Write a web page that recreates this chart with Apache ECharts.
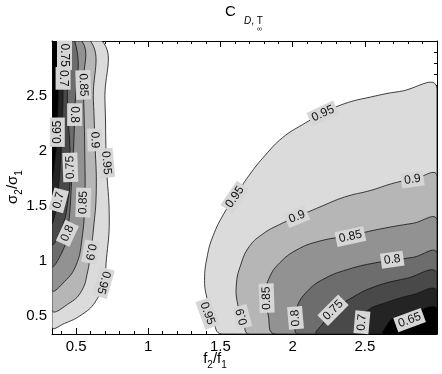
<!DOCTYPE html>
<html>
<head>
<meta charset="utf-8">
<script src="https://cdn.jsdelivr.net/npm/echarts@6/dist/echarts.min.js"></script>
<style>
html, body { margin: 0; padding: 0; background: #fff; }
#chart-container { width: 442px; height: 374px; }
</style>
</head>
<body>
<div id="chart-container"></div>
<script>
'use strict';

// axis ticks
const xMajor = [0.5, 1, 1.5, 2, 2.5];
const yMajor = [0.5, 1, 1.5, 2, 2.5];
const xMinor = [0.4, 0.5, 0.6, 0.7, 0.8, 0.9, 1, 1.1, 1.2, 1.3, 1.4, 1.5, 1.6, 1.7, 1.8, 1.9,
    2, 2.1, 2.2, 2.3, 2.4, 2.5, 2.6, 2.7, 2.8, 2.9];
const yMinor = [0.4, 0.5, 0.6, 0.7, 0.8, 0.9, 1, 1.1, 1.2, 1.3, 1.4, 1.5, 1.6, 1.7, 1.8, 1.9,
    2, 2.1, 2.2, 2.3, 2.4, 2.5, 2.6, 2.7, 2.8, 2.9];

// contour levels as [f2/f1, sigma2/sigma1]
const levels = [0.95, 0.9, 0.85, 0.8, 0.75, 0.7, 0.65];

// right lobe (dark corner at bottom right)
const right95 = [[1.51, 0.333], [1.45, 0.46], [1.41, 0.64], [1.39, 0.82], [1.41, 1.05], [1.45, 1.23],
    [1.52, 1.42], [1.60, 1.58], [1.70, 1.78], [1.81, 1.96], [1.93, 2.12], [2.07, 2.24], [2.21, 2.34],
    [2.36, 2.43], [2.54, 2.49], [2.74, 2.54], [3, 2.57]];
const right90 = [[1.70, 0.333], [1.66, 0.44], [1.62, 0.60], [1.61, 0.78], [1.64, 0.96], [1.70, 1.13],
    [1.80, 1.25], [1.91, 1.33], [2.03, 1.40], [2.19, 1.49], [2.36, 1.58], [2.54, 1.64], [2.71, 1.71],
    [2.83, 1.74], [3, 1.77]];
const right85 = [[1.88, 0.333], [1.83, 0.51], [1.81, 0.69], [1.84, 0.85], [1.91, 0.98], [2.03, 1.10],
    [2.19, 1.18], [2.40, 1.23], [2.61, 1.29], [2.83, 1.34], [3, 1.37]];
const right80 = [[2.04, 0.333], [2.02, 0.46], [2.03, 0.58], [2.10, 0.72], [2.21, 0.83], [2.38, 0.92],
    [2.61, 0.99], [2.83, 1.03], [3, 1.07]];
const right75 = [[2.17, 0.333], [2.21, 0.43], [2.28, 0.55], [2.38, 0.64], [2.56, 0.76], [2.79, 0.84], [3, 0.89]];
const right70 = [[2.48, 0.333], [2.47, 0.46], [2.52, 0.55], [2.65, 0.62], [2.83, 0.69], [3, 0.73]];
const right65 = [[2.63, 0.333], [2.65, 0.41], [2.70, 0.48], [2.83, 0.53], [3, 0.57]];

// left lobe (dark corner at top left)
const left95 = [[0.333, 0.40], [0.42, 0.43], [0.54, 0.51], [0.63, 0.62], [0.69, 0.80], [0.71, 1.01],
    [0.73, 1.37], [0.71, 1.89], [0.70, 2.46], [0.68, 3]];
const left90 = [[0.333, 0.56], [0.46, 0.62], [0.54, 0.73], [0.58, 0.90], [0.60, 1.08], [0.62, 1.28],
    [0.64, 1.64], [0.63, 2.10], [0.62, 2.46], [0.60, 3]];
const left85 = [[0.333, 0.74], [0.42, 0.81], [0.50, 0.96], [0.54, 1.19], [0.56, 1.53], [0.56, 2.01],
    [0.55, 2.60], [0.54, 3]];
const left80 = [[0.333, 0.96], [0.40, 1.07], [0.44, 1.25], [0.47, 1.74], [0.49, 2.33], [0.49, 3]];
const left75 = [[0.333, 1.16], [0.40, 1.30], [0.44, 1.51], [0.46, 1.84], [0.44, 2.46], [0.43, 3]];
const left70 = [[0.333, 1.35], [0.36, 1.46], [0.38, 1.69], [0.40, 2.10], [0.41, 2.66], [0.40, 3]];
const left65 = [[0.333, 1.74], [0.35, 1.87], [0.37, 2.17], [0.37, 3]];

// contour labels: [f2/f1, sigma2/sigma1, text, angle]
const contourLabels = [
    [2.21, 2.34, '0.95', 25], [1.60, 1.58, '0.95', 56], [1.41, 0.52, '0.95', -70],
    [2.83, 1.74, '0.9', 8], [2.03, 1.40, '0.9', 22], [1.65, 0.49, '0.9', 105],
    [2.40, 1.22, '0.85', 12], [1.82, 0.66, '0.85', 92],
    [2.69, 1.01, '0.8', 8], [2.02, 0.48, '0.8', 95],
    [2.28, 0.55, '0.75', 45], [2.48, 0.44, '0.7', 85], [2.81, 0.46, '0.65', 20],
    [0.42, 2.87, '0.75', -90], [0.41, 2.66, '0.7', -90], [0.55, 2.60, '0.85', -88],
    [0.49, 2.33, '0.8', -90], [0.37, 2.17, '0.65', 90], [0.63, 2.10, '0.9', -88],
    [0.71, 1.89, '0.95', -85], [0.46, 1.85, '0.75', 92], [0.38, 1.55, '0.7', 75],
    [0.55, 1.53, '0.85', 88], [0.44, 1.25, '0.8', 65], [0.60, 1.08, '0.9', -100],
    [0.69, 0.80, '0.95', -106]
];

const fillColors = ['#dbdbdb', '#b6b6b6', '#929292', '#6d6d6d', '#494949', '#242424', '#000000'];

const xMin = 1 / 3, xMax = 3, yMin = 1 / 3, yMax = 3;
const fontFamily = '"Liberation Sans", Helvetica, Arial, sans-serif';

const rightSet = [right95, right90, right85, right80, right75, right70, right65];
const leftSet = [left95, left90, left85, left80, left75, left70, left65];
const contours = [];
rightSet.forEach((pts, i) => contours.push({ pts: pts, corner: [xMax, yMin], fill: fillColors[i] }));
leftSet.forEach((pts, i) => contours.push({ pts: pts, corner: [xMin, yMax], fill: fillColors[i] }));

function renderContour(params, api) {
    const c = contours[params.dataIndex];
    const points = c.pts.map((p) => api.coord(p));
    points.push(api.coord(c.corner));
    const tl = api.coord([xMin, yMax]);
    const br = api.coord([xMax, yMin]);
    return {
        type: 'polygon',
        shape: { points: points, smooth: 0.45, smoothConstraint: [tl, br] },
        style: { fill: c.fill, stroke: '#111', lineWidth: 0.8 }
    };
}

function renderLabel(params, api) {
    const l = contourLabels[params.dataIndex];
    const p = api.coord([l[0], l[1]]);
    return {
        type: 'text',
        x: p[0],
        y: p[1],
        rotation: l[3] * Math.PI / 180,
        style: {
            text: l[2],
            font: '12px ' + fontFamily,
            fill: '#111',
            align: 'center',
            verticalAlign: 'middle',
            backgroundColor: '#d6d6d6',
            padding: [2, 3, 1, 3]
        }
    };
}

function axis(pos, ticks, len, labels, line) {
    return {
        type: 'value',
        position: pos,
        min: pos === 'bottom' || pos === 'top' ? xMin : yMin,
        max: pos === 'bottom' || pos === 'top' ? xMax : yMax,
        axisLine: { show: line, onZero: false, lineStyle: { color: '#000', width: 1 } },
        axisTick: { show: true, inside: true, length: len, customValues: ticks, lineStyle: { color: '#000', width: 1 } },
        axisLabel: labels
            ? { show: true, customValues: labels, margin: 5, color: '#000', fontSize: 15, fontFamily: fontFamily }
            : { show: false },
        splitLine: { show: false }
    };
}

let myChart = echarts.init(document.getElementById('chart-container'), null, { renderer: 'canvas' });

const option = {
    backgroundColor: '#fff',
    animation: false,
    grid: { left: 52, right: 5, top: 41, bottom: 40 },
    xAxis: [
        axis('bottom', xMajor, 6, xMajor, true),
        axis('bottom', xMinor, 3, null, false),
        axis('top', xMajor, 6, null, true),
        axis('top', xMinor, 3, null, false)
    ],
    yAxis: [
        axis('left', yMajor, 6, yMajor, true),
        axis('left', yMinor, 3, null, false),
        axis('right', yMajor, 6, null, true),
        axis('right', yMinor, 3, null, false)
    ],
    graphic: [
        { type: 'text', left: 225, top: 4, style: { text: 'C', font: '15px ' + fontFamily, fill: '#000' } },
        {
            type: 'text', left: 244, top: 16,
            style: {
                text: '{i|D}{n|, T}',
                rich: {
                    i: { fontStyle: 'italic', fontSize: 10, fontFamily: fontFamily, fill: '#000' },
                    n: { fontSize: 10, fontFamily: fontFamily, fill: '#000' }
                }
            }
        },
        { type: 'text', left: 257, top: 26, style: { text: '∞', font: '7px ' + fontFamily, fill: '#000' } },
        {
            type: 'text', x: 15, y: 187, rotation: Math.PI / 2,
            style: {
                text: '{m|σ}{s|2}{m|/σ}{s|1}',
                align: 'center', verticalAlign: 'middle',
                rich: {
                    m: { fontSize: 15, fontFamily: fontFamily, verticalAlign: 'bottom', padding: [0, 0, 4, 0] },
                    s: { fontSize: 10, fontFamily: fontFamily, verticalAlign: 'bottom' }
                }
            }
        },
        {
            type: 'text', x: 215, y: 361,
            style: {
                text: '{m|f}{s|2}{m|/f}{s|1}',
                align: 'center', verticalAlign: 'middle',
                rich: {
                    m: { fontSize: 15, fontFamily: fontFamily, verticalAlign: 'bottom', padding: [0, 0, 4, 0] },
                    s: { fontSize: 10, fontFamily: fontFamily, verticalAlign: 'bottom' }
                }
            }
        }
    ],
    series: [
        {
            type: 'custom',
            xAxisIndex: 0,
            yAxisIndex: 0,
            clip: true,
            silent: true,
            renderItem: renderContour,
            data: contours.map((c) => c.corner)
        },
        {
            type: 'custom',
            xAxisIndex: 0,
            yAxisIndex: 0,
            silent: true,
            z: 5,
            renderItem: renderLabel,
            data: contourLabels.map((l) => [l[0], l[1]])
        }
    ]
};
myChart.setOption(option);
window.addEventListener('resize', myChart.resize);
</script>
</body>
</html>
